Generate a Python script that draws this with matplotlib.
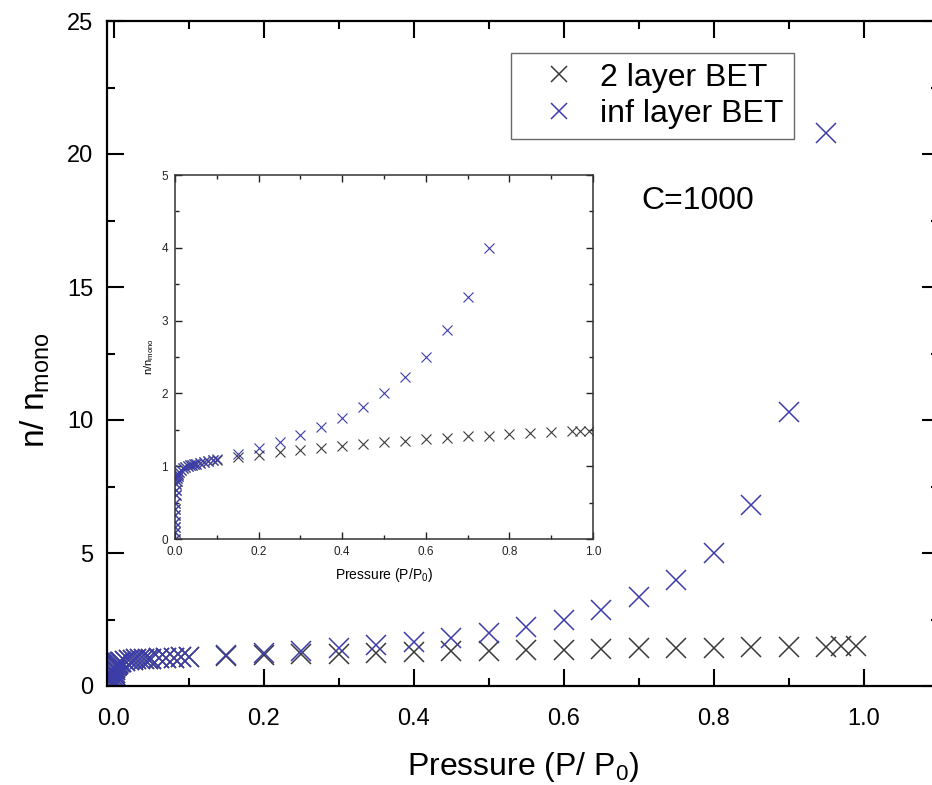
import matplotlib
matplotlib.use("Agg")
import matplotlib.pyplot as plt
from matplotlib.ticker import MultipleLocator

plt.rcParams['font.family'] = ['Liberation Sans', 'DejaVu Sans']
plt.rcParams['mathtext.fontset'] = 'custom'
plt.rcParams['mathtext.rm'] = 'Liberation Sans'
plt.rcParams['mathtext.it'] = 'Liberation Sans'

# relative pressure P/P0, shared low-pressure part of both series
p_low = [0.0, 0.0001, 0.0002, 0.0003, 0.0005, 0.0007, 0.001, 0.0015, 0.002,
         0.003, 0.004, 0.005, 0.006, 0.008, 0.01, 0.015, 0.02, 0.025, 0.03,
         0.035, 0.04, 0.045, 0.05, 0.06, 0.07, 0.08, 0.09, 0.1]
n_low = [0.0, 0.09, 0.17, 0.23, 0.33, 0.41, 0.50, 0.60, 0.67,
         0.75, 0.80, 0.84, 0.86, 0.89, 0.92, 0.95, 0.97, 0.99, 1.00,
         1.01, 1.02, 1.03, 1.03, 1.05, 1.06, 1.07, 1.08, 1.09]

# 2 layer BET
p_two = p_low + [0.15, 0.2, 0.25, 0.3, 0.35, 0.4, 0.45, 0.5, 0.55, 0.6, 0.65,
                 0.7, 0.75, 0.8, 0.85, 0.9, 0.95, 0.97, 0.99]
n_two = n_low + [1.12, 1.16, 1.19, 1.22, 1.25, 1.28, 1.30, 1.33, 1.35, 1.37,
                 1.39, 1.41, 1.42, 1.44, 1.45, 1.47, 1.48, 1.49, 1.49]

# infinite layer BET
p_inf = p_low + [0.15, 0.2, 0.25, 0.3, 0.35, 0.4, 0.45, 0.5, 0.55, 0.6, 0.65,
                 0.7, 0.75, 0.8, 0.85, 0.9, 0.95]
n_inf = n_low[:-1] + [1.10] + [1.17, 1.25, 1.33, 1.43, 1.54, 1.66, 1.82, 2.0,
                               2.22, 2.50, 2.87, 3.33, 4.0, 5.0, 6.8, 10.3, 20.8]

BLACK = '#3a3a3a'
BLUE = '#3c3cab'

fig = plt.figure(figsize=(9.32, 7.85), dpi=100)

# main axes
ax = fig.add_axes([107 / 932, 99 / 785, 832 / 932, 665 / 785])
ax.plot(p_two, n_two, 'x', color=BLACK, ms=14, mew=1.1, label='2 layer BET')
ax.plot(p_inf, n_inf, 'x', color=BLUE, ms=14, mew=1.1, label='inf layer BET')
ax.set_xlim(-0.0093, 1.1)
ax.set_ylim(0, 25)
ax.xaxis.set_major_locator(MultipleLocator(0.2))
ax.xaxis.set_minor_locator(MultipleLocator(0.1))
ax.yaxis.set_major_locator(MultipleLocator(5))
ax.yaxis.set_minor_locator(MultipleLocator(2.5))
ax.xaxis.set_major_formatter(lambda v, pos: f'{v:.1f}')
ax.tick_params(which='both', direction='in', top=True, right=True,
               width=1.5, labelsize=17)
ax.tick_params(which='major', length=12)
ax.tick_params(which='minor', length=6)
ax.tick_params(axis='x', pad=16)
ax.tick_params(axis='y', pad=10)
for s in ax.spines.values():
    s.set_linewidth(1.6)
ax.set_xlabel('Pressure (P/ P$_0$)', fontsize=23, labelpad=14)
ax.set_ylabel('n/ n$_{\\rm mono}$', fontsize=24, labelpad=10)
ax.yaxis.set_label_coords(-0.066, (686 - 390) / 665)

leg = ax.legend(loc='upper left', bbox_to_anchor=(511 / 932, 1 - 53 / 785),
                bbox_transform=fig.transFigure, fontsize=23, frameon=True,
                fancybox=False, borderpad=0.3, handletextpad=0.1,
                handlelength=2.4, labelspacing=0.2, borderaxespad=0,
                markerscale=0.85)
leg.get_frame().set_edgecolor('#444444')
leg.get_frame().set_linewidth(1.0)

fig.text(698 / 932, 1 - 201 / 785, 'C=1000', fontsize=23,
         ha='center', va='center')

# inset (points above its top edge are left out, as in the original)
ins = fig.add_axes([175 / 932, 246 / 785, 418 / 932, 364 / 785])
ins.plot(p_two, n_two, 'x', color=BLACK, ms=7, mew=0.8)
ins.plot([p for p, n in zip(p_inf, n_inf) if n < 5],
         [n for n in n_inf if n < 5], 'x', color=BLUE, ms=7, mew=0.8)
ins.set_xlim(0, 1)
ins.set_ylim(0, 5)
ins.xaxis.set_major_locator(MultipleLocator(0.2))
ins.xaxis.set_minor_locator(MultipleLocator(0.1))
ins.yaxis.set_major_locator(MultipleLocator(1))
ins.yaxis.set_minor_locator(MultipleLocator(0.5))
ins.xaxis.set_major_formatter(lambda v, pos: f'{v:.1f}')
ins.tick_params(which='both', direction='in', top=True, right=True,
                width=1.0, labelsize=8.5, colors='#222222')
ins.tick_params(which='major', length=5)
ins.tick_params(which='minor', length=3)
ins.tick_params(axis='x', pad=5)
ins.tick_params(axis='y', pad=5)
for s in ins.spines.values():
    s.set_linewidth(1.1)
    s.set_color('#333333')
ins.set_xlabel('Pressure (P/P$_0$)', fontsize=10, labelpad=6)
ins.set_ylabel('n/n$_{\\rm mono}$', fontsize=8, labelpad=4)

fig.savefig('out.png', dpi=100)
